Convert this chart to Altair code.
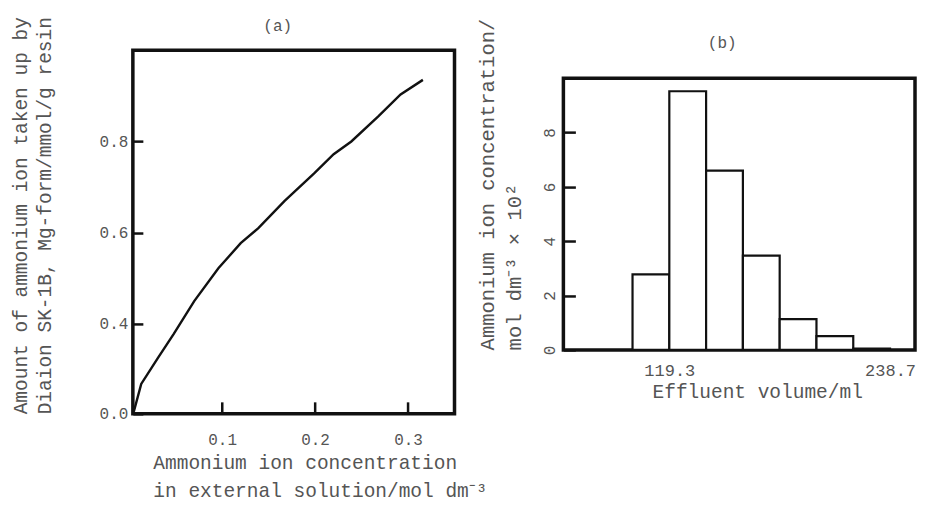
import altair as alt
import pandas as pd

# ---- panel (a): uptake curve ----
conc = [0.005, 0.013, 0.031, 0.048, 0.070, 0.096, 0.120, 0.139, 0.167, 0.199, 0.220, 0.239, 0.268, 0.292, 0.316]
uptake = [0.01, 0.133, 0.249, 0.356, 0.450, 0.522, 0.577, 0.610, 0.669, 0.730, 0.772, 0.800, 0.855, 0.903, 0.935]
a_xticks = [0.1, 0.2, 0.3]
a_yticks = [0.0, 0.4, 0.6, 0.8]

# ---- panel (b): elution histogram ----
bin_start = [99.4, 119.3, 139.2, 159.1, 179.0, 198.9, 218.8]
bin_end = [119.3, 139.2, 159.1, 179.0, 198.9, 218.8, 238.7]
nh4 = [2.78, 9.52, 6.6, 3.47, 1.13, 0.51, 0.05]
b_xticks = [119.3, 238.7]
b_yticks = [0, 2, 4, 6, 8]

FONT = "Liberation Mono"
TXT = "#555555"

df_a = pd.DataFrame({"c": conc, "q": uptake})
df_b = pd.DataFrame({"s": bin_start, "e": bin_end, "v": nh4})

AW, AH = 322, 364
chart_a = alt.Chart(df_a).mark_line(color="#111111", strokeWidth=2.4).encode(
    x=alt.X("c:Q", scale=alt.Scale(domain=[0.004, 0.35], nice=False, zero=False),
            axis=alt.Axis(values=a_xticks, format=".1f", offset=-12, tickSize=12, tickWidth=2.5,
                          tickColor="#111111", domain=False, grid=False, labelPadding=18,
                          labelFont=FONT, labelFontSize=16, labelColor=TXT,
                          title=["Ammonium ion concentration", "in external solution/mol dm\u207b\u00b3"],
                          titleFont=FONT, titleFontSize=19.5, titleFontWeight="normal", titleColor=TXT,
                          titleAlign="left", titleX=20, titlePadding=6, titleLineHeight=28)),
    y=alt.Y("q:Q", scale=alt.Scale(domain=[0.0, 0.4, 1.0], range=[AH, 274, 0], nice=False, zero=False),
            axis=alt.Axis(values=a_yticks, format=".1f", offset=-10, tickSize=10, tickWidth=2.5,
                          tickColor="#111111", domain=False, grid=False, labelPadding=5,
                          labelFont=FONT, labelFontSize=16, labelColor=TXT,
                          title=["Amount of ammonium ion taken up by", "Diaion SK-1B, Mg-form/mmol/g resin"],
                          titleFont=FONT, titleFontSize=19.5, titleFontWeight="normal", titleColor=TXT,
                          titleAnchor="start", titleAlign="left",
                          titlePadding=45, titleLineHeight=24)),
).properties(
    width=AW, height=AH,
    title=alt.TitleParams("(a)", font=FONT, fontSize=16, fontWeight="normal", color=TXT,
                          offset=-18, dx=-16, frame="group"),
)

BW, BH = 352, 272
chart_b = alt.Chart(df_b).mark_rect(fill="white", stroke="#111111", strokeWidth=2.2).encode(
    x=alt.X("s:Q", scale=alt.Scale(domain=[62, 252.2], nice=False, zero=False),
            axis=alt.Axis(values=b_xticks, format=".1f", ticks=False, domain=False, grid=False,
                          labelPadding=13, labelFont=FONT, labelFontSize=17, labelColor=TXT,
                          title="Effluent volume/ml", titleFont=FONT, titleFontSize=19.5,
                          titleFontWeight="normal", titleColor=TXT, titlePadding=4, titleX=194)),
    x2="e:Q",
    y=alt.Y("v:Q", scale=alt.Scale(domain=[0, 10], nice=False),
            axis=alt.Axis(values=b_yticks, format="d", offset=-12, tickSize=12, tickWidth=2.5,
                          tickColor="#111111", domain=False, grid=False, labelPadding=6,
                          labelAngle=270, labelFont=FONT, labelFontSize=16, labelColor=TXT,
                          title=["Ammonium ion concentration/", "mol dm\u207b\u00b3 \u00d7 10\u00b2"],
                          titleFont=FONT, titleFontSize=20.5, titleFontWeight="normal", titleColor=TXT,
                          titleAnchor="start", titleAlign="left", titlePadding=17, titleLineHeight=27)),
    y2=alt.datum(0),
).properties(width=BW, height=BH)

spacer = alt.Chart(pd.DataFrame({"z": [0]})).mark_point(opacity=0).encode(
    x=alt.value(0), y=alt.value(0)
).properties(
    width=BW, height=28,
    view=alt.ViewBackground(stroke="transparent"),
    title=alt.TitleParams("(b)", font=FONT, fontSize=16, fontWeight="normal", color=TXT,
                          offset=-4, dx=-17, frame="group"),
)

right = alt.vconcat(spacer, chart_b, spacing=0, bounds="flush")

chart = alt.hconcat(chart_a, right, spacing=109, bounds="flush").properties(
    padding={"left": 0, "top": 6, "right": 0, "bottom": 0}
).configure_view(stroke="#111111", strokeWidth=3.5)

chart.save("out.html", embed_options={"renderer": "svg", "actions": False})
